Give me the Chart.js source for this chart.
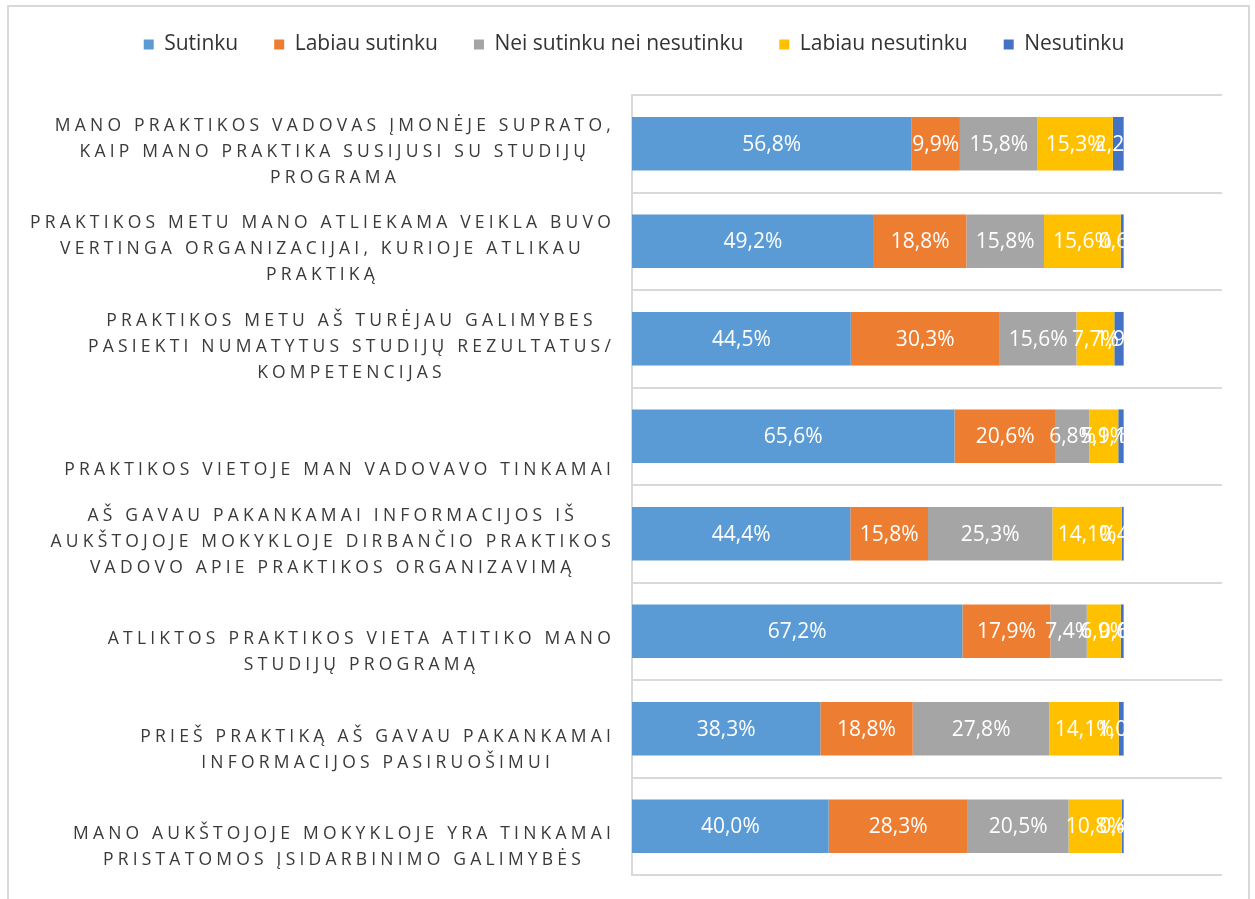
<!DOCTYPE html>
<html>
<head>
<meta charset="utf-8">
<script src="https://cdn.jsdelivr.net/npm/chart.js@4.4.0/dist/chart.umd.min.js"></script>
<style>
    html, body { margin: 0; padding: 0; background: #fff; }
    #frame { position: absolute; left: 7px; top: 5px; width: 1243px; height: 920px; border: 2px solid #d9d9d9; box-sizing: border-box; }
    #wrap { position: absolute; left: 0; top: 0; width: 1255px; height: 899px; }
</style>
</head>
<body>
<div id="frame"></div>
<div id="wrap"><canvas id="chart"></canvas></div>
<script>
// Category labels (lines as shown in the picture)
const categories = [
    ['MANO PRAKTIKOS VADOVAS ĮMONĖJE SUPRATO,', 'KAIP MANO PRAKTIKA SUSIJUSI SU STUDIJŲ', 'PROGRAMA'],
    ['PRAKTIKOS METU MANO ATLIEKAMA VEIKLA BUVO', 'VERTINGA ORGANIZACIJAI, KURIOJE ATLIKAU', 'PRAKTIKĄ'],
    ['PRAKTIKOS METU AŠ TURĖJAU GALIMYBES', 'PASIEKTI NUMATYTUS STUDIJŲ REZULTATUS/', 'KOMPETENCIJAS'],
    ['PRAKTIKOS VIETOJE MAN VADOVAVO TINKAMAI'],
    ['AŠ GAVAU PAKANKAMAI INFORMACIJOS IŠ', 'AUKŠTOJOJE MOKYKLOJE DIRBANČIO PRAKTIKOS', 'VADOVO APIE PRAKTIKOS ORGANIZAVIMĄ'],
    ['ATLIKTOS PRAKTIKOS VIETA ATITIKO MANO', 'STUDIJŲ PROGRAMĄ'],
    ['PRIEŠ PRAKTIKĄ AŠ GAVAU PAKANKAMAI', 'INFORMACIJOS PASIRUOŠIMUI'],
    ['MANO AUKŠTOJOJE MOKYKLOJE YRA TINKAMAI', 'PRISTATOMOS ĮSIDARBINIMO GALIMYBĖS']
];

const seriesNames = ['Sutinku', 'Labiau sutinku', 'Nei sutinku nei nesutinku', 'Labiau nesutinku', 'Nesutinku'];
const seriesColors = ['#5b9bd5', '#ed7d31', '#a5a5a5', '#ffc000', '#4472c4'];

// Values in percent
const sutinku         = [56.8, 49.2, 44.5, 65.6, 44.4, 67.2, 38.3, 40.0];
const labiauSutinku   = [9.9, 18.8, 30.3, 20.6, 15.8, 17.9, 18.8, 28.3];
const neiSutinku      = [15.8, 15.8, 15.6, 6.8, 25.3, 7.4, 27.8, 20.5];
const labiauNesutinku = [15.3, 15.6, 7.7, 5.9, 14.1, 6.9, 14.1, 10.8];
const nesutinku       = [2.2, 0.6, 1.9, 1.1, 0.4, 0.6, 1.0, 0.4];

const xMin = 0;
const xMax = 120;
const fullScale = 100;

const seriesValues = [sutinku, labiauSutinku, neiSutinku, labiauNesutinku, nesutinku];

function formatPct(v) {
    return v.toFixed(1).replace('.', ',') + '%';
}

// Leave room under the legend, like the original
const legendRoom = {
    id: 'legendRoom',
    beforeLayout(chart) {
        const lg = chart.legend;
        if (lg && !lg._roomPatched) {
            const fit = lg.fit;
            lg.fit = function () {
                fit.call(this);
                this.height = 97;
            };
            lg._roomPatched = true;
        }
    }
};

// Category labels: each block centred on its own widest line, right edge next to the axis
const categoryLabels = {
    id: 'categoryLabels',
    afterDraw(chart) {
        const ctx = chart.ctx;
        const yScale = chart.scales.y;
        const right = chart.chartArea.left - 17;
        ctx.save();
        ctx.font = '17.5px "Open Sans"';
        ctx.letterSpacing = '4.2px';
        ctx.fillStyle = '#3a3a3a';
        ctx.textAlign = 'left';
        ctx.textBaseline = 'middle';
        categories.forEach((lines, i) => {
            const yc = yScale.getPixelForValue(i);
            const widths = lines.map(l => ctx.measureText(l).width);
            const blockW = Math.max(...widths);
            lines.forEach((line, j) => {
                const slot = 3 - lines.length + j;
                const y = yc - 18 + slot * 26;
                const x = right - blockW + (blockW - widths[j]) / 2;
                ctx.fillText(line, x, y);
            });
        });
        ctx.restore();
    }
};

// White value labels in the middle of each segment
const valueLabels = {
    id: 'valueLabels',
    afterDatasetsDraw(chart) {
        const ctx = chart.ctx;
        const area = chart.chartArea;
        const xScale = chart.scales.x;
        const clipRight = xScale.getPixelForValue(fullScale) + 1;
        ctx.save();
        ctx.beginPath();
        ctx.rect(area.left, area.top, clipRight - area.left, area.bottom - area.top);
        ctx.clip();
        ctx.letterSpacing = '0px';
        ctx.font = '21px "Open Sans"';
        ctx.fillStyle = '#ffffff';
        ctx.textAlign = 'center';
        ctx.textBaseline = 'middle';
        chart.data.datasets.forEach((ds, di) => {
            chart.getDatasetMeta(di).data.forEach((bar, i) => {
                const x = (bar.x + bar.base) / 2;
                ctx.fillText(formatPct(ds.data[i]), x, bar.y + 1);
            });
        });
        ctx.restore();
    }
};

const ctx = document.getElementById('chart');

new Chart(ctx, {
    type: 'bar',
    data: {
        labels: categories.map(c => c.join(' ')),
        datasets: seriesNames.map((name, k) => ({
            label: name,
            data: seriesValues[k],
            backgroundColor: seriesColors[k],
            borderWidth: 0,
            categoryPercentage: 1,
            barPercentage: 0.55
        }))
    },
    options: {
        indexAxis: 'y',
        responsive: true,
        maintainAspectRatio: false,
        animation: false,
        layout: {
            padding: { left: 46, right: 33, top: -2, bottom: 24 }
        },
        plugins: {
            legend: {
                position: 'top',
                labels: {
                    font: { family: 'Open Sans', size: 21 },
                    color: '#333333',
                    boxWidth: 10,
                    boxHeight: 10,
                    padding: 36
                }
            },
            tooltip: { enabled: false }
        },
        scales: {
            x: {
                stacked: true,
                min: xMin,
                max: xMax,
                display: false
            },
            y: {
                stacked: true,
                offset: true,
                grid: {
                    offset: true,
                    color: '#d9d9d9',
                    lineWidth: 2,
                    drawTicks: false
                },
                border: { color: '#d9d9d9', width: 2 },
                ticks: { display: false },
                afterFit(scale) {
                    scale.width = 632 - 46;
                }
            }
        }
    },
    plugins: [legendRoom, categoryLabels, valueLabels]
});
</script>
</body>
</html>
